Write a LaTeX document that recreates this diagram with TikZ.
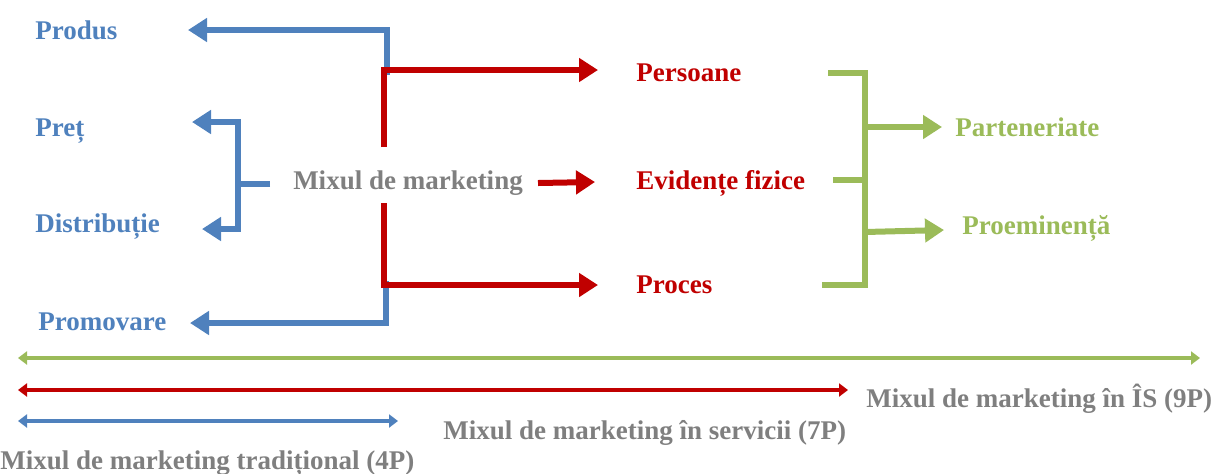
\documentclass[tikz,border=0pt]{standalone}
\usepackage{fontspec}
\setmainfont{Liberation Serif}
\usetikzlibrary{arrows.meta,positioning}
\definecolor{mixblue}{RGB}{79,129,189}
\definecolor{mixred}{RGB}{192,0,0}
\definecolor{mixgreen}{RGB}{155,187,89}
\definecolor{mixgray}{RGB}{127,127,127}

\begin{document}
\begin{tikzpicture}
   [x=0.5pt,y=-0.5pt,every node/.style={draw=none,inner sep = 0pt,font=\fontsize{13.5}{15}\selectfont\bfseries},
    bigarrow/.style={line width=3pt,-{Triangle[length=9.5pt,width=11.5pt]}},
    bigline/.style={line width=3pt},
    spanarrow/.style={line width=2pt,{Triangle[length=4.5pt,width=6.5pt]}-{Triangle[length=4.5pt,width=6.5pt]}}]

\useasboundingbox (0,0) rectangle (1213,473);

\node[text=mixgray] (mix) at (408,183) {Mixul de marketing};

%%%%%%%%%%%%%%%%%%%%%%%%%%%%%%%%%%%%%%%%%%%%%%%%%%%%%%%%%%%%%%%
% 4P = blue
%%%%%%%%%%%%%%%%%%%%%%%%%%%%%%%%%%%%%%%%%%%%%%%%%%%%%%%%%%%%%%%

\node[anchor=base west,text=mixblue] (prod) at (35,39) {Produs};
\node[anchor=base west,text=mixblue] (pret) at (35,136) {Preț};
\node[anchor=base west,text=mixblue] (distr) at (35,232) {Distribuție};
\node[anchor=base west,text=mixblue] (prom) at (38,330) {Promovare};

\coordinate (prod_J) at (387,75);
\coordinate (prod_T) at (188,30);
\coordinate (prom_J) at (386,281);
\coordinate (prom_T) at (190,323);
\coordinate (pd_S) at (270,184);
\coordinate (pd_J) at (238,184);
\coordinate (pret_T) at (192,122);
\coordinate (distr_T) at (202,229);

\draw[bigarrow,mixblue] (prod_J) |- (prod_T);
\draw[bigarrow,mixblue] (prom_J) |- (prom_T);
\draw[bigline,mixblue] (pd_S) -- (pd_J);
\draw[bigarrow,mixblue] (pd_J) |- (pret_T);
\draw[bigarrow,mixblue] (pd_J) |- (distr_T);

%%%%%%%%%%%%%%%%%%%%%%%%%%%%%%%%%%%%%%%%%%%%%%%%%%%%%%%%%%%%%%%
% 7P = red
%%%%%%%%%%%%%%%%%%%%%%%%%%%%%%%%%%%%%%%%%%%%%%%%%%%%%%%%%%%%%%%

\node[anchor=base west,text=mixred] (pers) at (636,81) {Persoane};
\node[anchor=base west,text=mixred] (evid) at (636,189) {Evidențe fizice};
\node[anchor=base west,text=mixred] (proc) at (636,293) {Proces};

\coordinate (pers_J) at (384,147);
\coordinate (pers_T) at (598,70);
\coordinate (evid_S) at (538,183);
\coordinate (evid_T) at (595,182);
\coordinate (proc_J) at (384,203);
\coordinate (proc_T) at (598,285);

\draw[bigarrow,mixred] (pers_J) |- (pers_T);
\draw[bigarrow,mixred] (evid_S) -- (evid_T);
\draw[bigarrow,mixred] (proc_J) |- (proc_T);

%%%%%%%%%%%%%%%%%%%%%%%%%%%%%%%%%%%%%%%%%%%%%%%%%%%%%%%%%%%%%%%
% 9P = green
%%%%%%%%%%%%%%%%%%%%%%%%%%%%%%%%%%%%%%%%%%%%%%%%%%%%%%%%%%%%%%%

\node[anchor=base west,text=mixgreen] (part) at (955,136) {Parteneriate};
\node[anchor=base west,text=mixgreen] (proem) at (962,234) {Proeminență};

\coordinate (br_T) at (828,73);
\coordinate (br_B) at (822,285);
\coordinate (br_M) at (833,180);
\coordinate (br_X) at (865,180);
\coordinate (part_J) at (865,127);
\coordinate (part_T) at (942,127);
\coordinate (proem_J) at (865,232);
\coordinate (proem_T) at (944,230);

\draw[bigline,mixgreen] (br_T) -| (br_X) |- (br_B);
\draw[bigline,mixgreen] (br_M) -- (br_X);
\draw[bigarrow,mixgreen] (part_J) -- (part_T);
\draw[bigarrow,mixgreen] (proem_J) -- (proem_T);

%%%%%%%%%%%%%%%%%%%%%%%%%%%%%%%%%%%%%%%%%%%%%%%%%%%%%%%%%%%%%%%
% Span of each mix
%%%%%%%%%%%%%%%%%%%%%%%%%%%%%%%%%%%%%%%%%%%%%%%%%%%%%%%%%%%%%%%

\coordinate (is_L) at (18,358);
\coordinate (is_R) at (1200,358);
\coordinate (serv_L) at (18,390);
\coordinate (serv_R) at (848,390);
\coordinate (trad_L) at (18,421);
\coordinate (trad_R) at (398,421);

\draw[spanarrow,mixgreen] (is_L) -- (is_R);
\draw[spanarrow,mixred] (serv_L) -- (serv_R);
\draw[spanarrow,mixblue] (trad_L) -- (trad_R);

\node[anchor=base west,text=mixgray] (is) at (866,407) {Mixul de marketing în ÎS (9P)};
\node[anchor=base west,text=mixgray] (serv) at (443,439) {Mixul de marketing în servicii (7P)};
\node[anchor=base west,text=mixgray] (trad) at (0,469) {Mixul de marketing tradițional (4P)};

\end{tikzpicture}
\end{document}
